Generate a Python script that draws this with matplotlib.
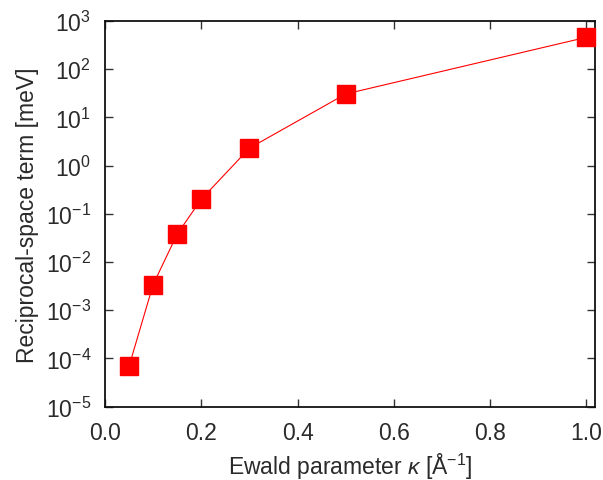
import math
import matplotlib
matplotlib.use("Agg")
import matplotlib.pyplot as plt

kappa = [0.05, 0.1, 0.15, 0.2, 0.3, 0.5, 1.0]
recip = [6.9e-5, 3.4e-3, 0.038, 0.20, 2.3, 30.6, 458.0]
xticks = [0.0, 0.2, 0.4, 0.6, 0.8, 1.0]
yticks = [1e-5, 1e-4, 1e-3, 1e-2, 1e-1, 1e0, 1e1, 1e2, 1e3]

plt.rcParams['font.family'] = ['Liberation Sans', 'DejaVu Sans']
plt.rcParams['mathtext.fontset'] = 'custom'
plt.rcParams['mathtext.rm'] = 'Liberation Sans'
plt.rcParams['mathtext.it'] = 'Liberation Sans:italic'
plt.rcParams['mathtext.bf'] = 'Liberation Sans:bold'

txt = '#2a2a2a'
fs = 16.5
fig = plt.figure(figsize=(6.03, 4.81), dpi=100)
ax = fig.add_axes([0.1741, 0.1524, 0.8126, 0.8019])
ax.plot(kappa, recip, color='#ff0000', lw=0.8, marker='s', ms=12.5,
        mec='#ff0000', mfc='#ff0000', clip_on=False, zorder=3)
ax.set_yscale('log')
ax.set_xlim(0, 1.018)
ax.set_ylim(1e-5, 1e3)
ax.set_xticks(xticks)
ax.set_xticklabels([f'{v:.1f}' for v in xticks])
ax.set_yticks(yticks)
ax.set_yticklabels([r'$10^{%d}$' % round(math.log10(v)) for v in yticks])
ax.minorticks_off()
ax.tick_params(direction='in', length=6, width=1, colors='#333333',
               labelcolor=txt, labelsize=fs, pad=10, top=True, right=True)
for s in ax.spines.values():
    s.set_linewidth(1.3)
    s.set_color('#111111')
ax.set_xlabel(r'Ewald parameter $\kappa$ [Å$^{-1}$]', fontsize=fs, color=txt, labelpad=5)
ax.set_ylabel('Reciprocal-space term [meV]', fontsize=fs, color=txt, labelpad=5)
fig.savefig('out.png', dpi=100)
